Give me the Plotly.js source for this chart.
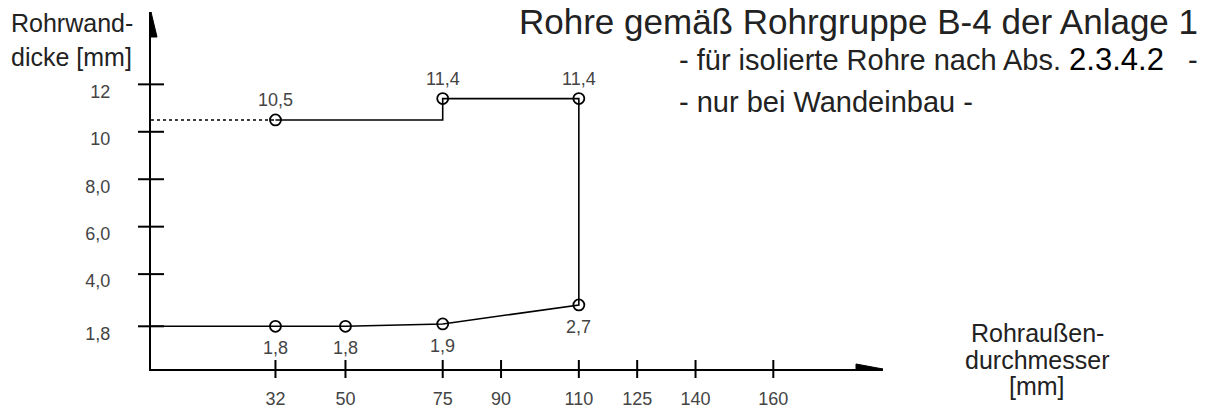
<!DOCTYPE html>
<html>
<head>
<meta charset="utf-8">
<script src="https://cdn.plot.ly/plotly-3.0.1.min.js"></script>
<style>html,body{margin:0;padding:0;background:#fff;}#chart{width:1224px;height:409px;}</style>
</head>
<body>
<div id="chart"></div>
<script>
// ---- data ----
const upperX = [32, 75, 110];
const upperY = [10.5, 11.4, 11.4];
const lowerX = [32, 50, 75, 110];
const lowerY = [1.8, 1.8, 1.9, 2.7];
const xTickVals = [32, 50, 75, 90, 110, 125, 140, 160];
const xTickText = ['32', '50', '75', '90', '110', '125', '140', '160'];
const yTickVals = [1.8, 4, 6, 8, 10, 12];
const yTickText = ['1,8', '4,0', '6,0', '8,0', '10', '12'];
const titleText = 'Rohre gemäß Rohrgruppe B-4 der Anlage 1';
const note1 = '- für isolierte Rohre nach Abs. <span style="color:#000000;font-size:31px">2.3.4.2</span>\u00a0\u00a0 -';
const note2 = '- nur bei Wandeinbau -';
const yTitle = ['Rohrwand-', 'dicke [mm]'];
const xTitle = ['Rohraußen-', 'durchmesser', '[mm]'];

// ---- layout helpers ----
const W = 1224, H = 409;
const M = {l: 151, r: 341, t: 12, b: 40};
const xRange = [0, 188.2];
const yRange = [0, 15.05];
const FONT = 'Liberation Sans, Arial, Helvetica, sans-serif';
const plotW = W - M.l - M.r, plotH = H - M.t - M.b;
const px = x => (x - M.l) / plotW;
const py = y => (H - M.b - y) / plotH;
const fmt = v => v.toFixed(1).replace('.', ',');

// path of the curve built from the data
const pathX = [upperX[0], upperX[1], upperX[1], upperX[2]]
  .concat(lowerX.slice().reverse()).concat([xRange[0]]);
const pathY = [upperY[0], upperY[0], upperY[1], upperY[2]]
  .concat(lowerY.slice().reverse()).concat([lowerY[0]]);

const traces = [
  {x: pathX, y: pathY, mode: 'lines', line: {color: '#000', width: 1.6},
   hoverinfo: 'skip', showlegend: false},
  {x: [xRange[0], upperX[0]], y: [upperY[0], upperY[0]], mode: 'lines',
   line: {color: '#000', width: 1.6, dash: 'dot'}, hoverinfo: 'skip', showlegend: false},
  {x: upperX.concat(lowerX), y: upperY.concat(lowerY), mode: 'markers', cliponaxis: false,
   marker: {symbol: 'circle-open', size: 11, color: '#000', line: {width: 1.8, color: '#000'}},
   showlegend: false}
];

// crossing tick marks, built from the tick arrays (x in data units, length in paper units)
const shapes = [];
xTickVals.forEach(t => shapes.push({type: 'line', xref: 'x', yref: 'paper', x0: t, x1: t,
  y0: -9 / plotH, y1: 9 / plotH, line: {color: '#000', width: 2}}));
yTickVals.forEach(t => shapes.push({type: 'line', xref: 'paper', yref: 'y', y0: t, y1: t,
  x0: -13 / plotW, x1: 13 / plotW, line: {color: '#000', width: 2}}));
// arrow heads
shapes.push({type: 'path', xref: 'x', yref: 'y', xsizemode: 'pixel', ysizemode: 'pixel',
  xanchor: xRange[1], yanchor: yRange[0], path: 'M0,0 L-27,5 L-27,-5 Z',
  fillcolor: '#000', line: {color: '#000', width: 1}});
shapes.push({type: 'path', xref: 'x', yref: 'y', xsizemode: 'pixel', ysizemode: 'pixel',
  xanchor: xRange[0], yanchor: yRange[1], path: 'M0,0 L-6,-25 L6,-25 Z',
  fillcolor: '#000', line: {color: '#000', width: 1}});

const annotations = [];
upperX.forEach((x, i) => annotations.push({x: x, y: upperY[i], xref: 'x', yref: 'y',
  text: fmt(upperY[i]), showarrow: false, yshift: 20,
  font: {family: FONT, size: 18, color: '#444'}}));
lowerX.forEach((x, i) => annotations.push({x: x, y: lowerY[i], xref: 'x', yref: 'y',
  text: fmt(lowerY[i]), showarrow: false, yshift: -22,
  font: {family: FONT, size: 18, color: '#444'}}));

annotations.push({xref: 'paper', yref: 'paper', x: px(517), y: py(21), xanchor: 'left', yanchor: 'middle',
  text: titleText, showarrow: false, font: {family: FONT, size: 35, color: '#222'}});
annotations.push({xref: 'paper', yref: 'paper', x: px(677), y: py(60), xanchor: 'left', yanchor: 'middle',
  text: note1, showarrow: false, font: {family: FONT, size: 29, color: '#222'}});
annotations.push({xref: 'paper', yref: 'paper', x: px(677), y: py(102), xanchor: 'left', yanchor: 'middle',
  text: note2, showarrow: false, font: {family: FONT, size: 29, color: '#222'}});
[23, 57].forEach((yy, i) => annotations.push({xref: 'paper', yref: 'paper', x: px(9), y: py(yy),
  xanchor: 'left', yanchor: 'middle', text: yTitle[i], showarrow: false,
  font: {family: FONT, size: 25, color: '#222'}}));
[333, 360, 386].forEach((yy, i) => annotations.push({xref: 'paper', yref: 'paper', x: px(1037), y: py(yy),
  xanchor: 'center', yanchor: 'middle', text: xTitle[i], showarrow: false,
  font: {family: FONT, size: 25, color: '#222'}}));

const axisCommon = {showgrid: false, zeroline: false, fixedrange: true};
const layout = {
  width: W, height: H,
  margin: M,
  paper_bgcolor: '#fff', plot_bgcolor: '#fff',
  showlegend: false,
  xaxis: Object.assign({}, axisCommon, {range: xRange, showline: true, linecolor: '#000', linewidth: 2,
    ticks: '', tickvals: xTickVals, ticktext: xTickText, ticklabelstandoff: 12,
    tickfont: {family: FONT, size: 18, color: '#444'}}),
  yaxis: Object.assign({}, axisCommon, {range: yRange, showline: true, linecolor: '#000', linewidth: 2,
    ticks: '', tickvals: yTickVals, ticktext: yTickText, ticklabelstandoff: 35, ticklabelshift: 7,
    tickfont: {family: FONT, size: 18, color: '#444'}}),
  shapes: shapes,
  annotations: annotations
};

Plotly.newPlot('chart', traces, layout, {displayModeBar: false, staticPlot: true});
</script>
</body>
</html>
